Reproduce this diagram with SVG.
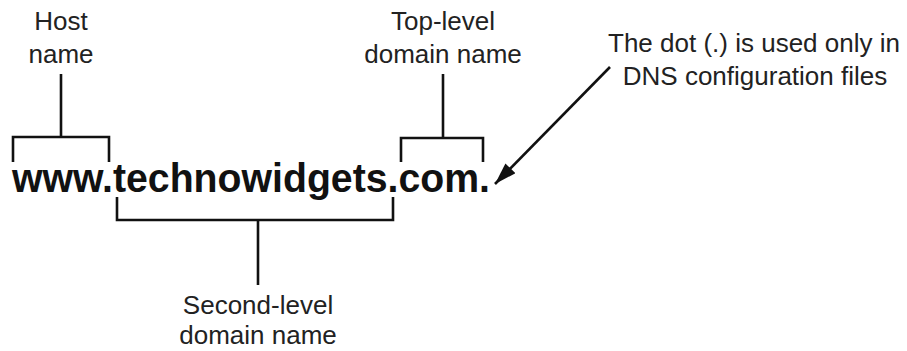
<svg xmlns="http://www.w3.org/2000/svg" width="907" height="351" viewBox="0 0 907 351">
<style>
.lbl{font-family:"Liberation Sans",Arial,sans-serif;font-size:26px;fill:#222;text-anchor:middle}
.main{font-family:"Liberation Sans",Arial,sans-serif;font-size:41px;font-weight:bold;fill:#111}
.ln{fill:none;stroke:#111;stroke-width:2.6;stroke-linecap:butt;stroke-linejoin:miter}
</style>
<defs>
<marker id="ah" markerUnits="userSpaceOnUse" markerWidth="24" markerHeight="16" refX="22" refY="7" orient="auto">
<path d="M0,0 L22,7 L0,14 z" fill="#111"/>
</marker>
</defs>
<rect width="907" height="351" fill="#fff"/>
<g id="domain">
<text class="main" x="12" y="192" textLength="478" lengthAdjust="spacingAndGlyphs">www.technowidgets.com.</text>
</g>
<g id="host">
<text class="lbl" x="61" y="30">Host</text>
<text class="lbl" x="61" y="63">name</text>
</g>
<g id="toplevel">
<text class="lbl" x="443" y="30">Top-level</text>
<text class="lbl" x="443" y="63">domain name</text>
</g>
<g id="secondlevel">
<text class="lbl" x="258" y="314">Second-level</text>
<text class="lbl" x="258" y="344">domain name</text>
</g>
<g id="dotnote">
<text class="lbl" x="754" y="52">The dot (.) is used only in</text>
<text class="lbl" x="755" y="85">DNS configuration files</text>
</g>
<g id="connectors">
<path class="ln" d="M13,162 V137 H109 V162 M61,137 V74"/>
<path class="ln" d="M117,197 V220 H393 V197 M258,220 V285"/>
<path class="ln" d="M401,162 V138 H483 V162 M443,138 V74"/>
<line class="ln" x1="610" y1="67" x2="495" y2="184" marker-end="url(#ah)"/>
</g>
</svg>
